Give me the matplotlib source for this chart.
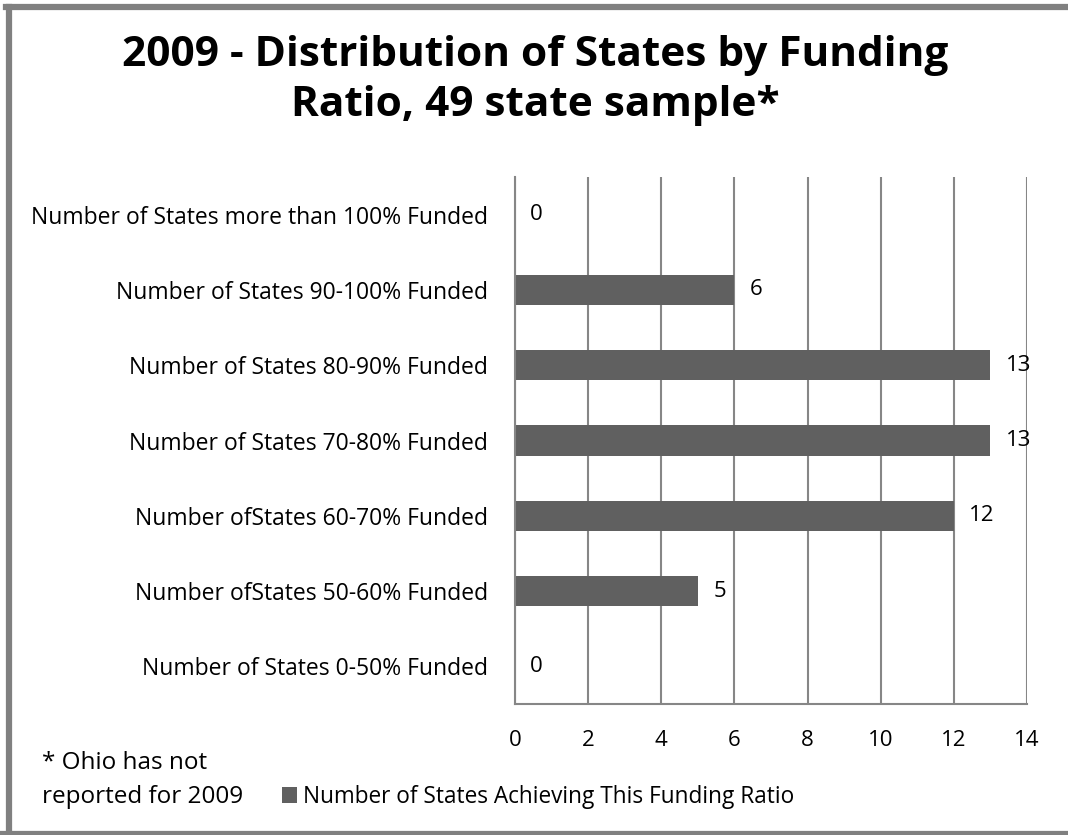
import matplotlib
matplotlib.use('Agg')
import matplotlib.pyplot as plt
from matplotlib.lines import Line2D

plt.rcParams['font.family'] = ['Open Sans', 'DejaVu Sans']

# funding-ratio buckets, bottom to top
categories = ['Number of States 0-50% Funded',
              'Number ofStates 50-60% Funded',
              'Number ofStates 60-70% Funded',
              'Number of States 70-80% Funded',
              'Number of States 80-90% Funded',
              'Number of States 90-100% Funded',
              'Number of States more than 100% Funded']
counts = [0, 5, 12, 13, 13, 6, 0]
x_ticks = [0, 2, 4, 6, 8, 10, 12, 14]
series_name = 'Number of States Achieving This Funding Ratio'

W, H = 1068, 835
fig = plt.figure(figsize=(W / 100, H / 100), dpi=100)

ax = fig.add_axes([515 / W, 1 - 704 / H, (1027 - 515) / W, (704 - 177) / H])
bar_color = '#606060'
grid_color = '#868686'

ypos = list(range(len(categories)))
bars = ax.barh(ypos, counts, height=0.4, color=bar_color, label=series_name)
ax.set_ylim(-0.5, len(categories) - 0.5)
ax.set_xlim(0, 14)
ax.set_xticks(x_ticks)
ax.set_yticks(ypos)
ax.set_yticklabels(categories)
ax.tick_params(axis='both', length=0)
ax.tick_params(axis='y', pad=19.5, labelsize=16.5)
ax.tick_params(axis='x', pad=19, labelsize=16)
ax.xaxis.grid(True, color=grid_color, linewidth=1.5)
ax.set_axisbelow(True)
for s in ['top', 'right']:
    ax.spines[s].set_visible(False)
for s in ['left', 'bottom']:
    ax.spines[s].set_color(grid_color)
    ax.spines[s].set_linewidth(1.5)

# value labels just past the bar ends
for y, v in zip(ypos, counts):
    ax.annotate(str(v), xy=(v, y), xytext=(11, 0), textcoords='offset points',
                ha='left', va='center', fontsize=16)

fig.text(535 / W, 1 - 56 / H, '2009 - Distribution of States by Funding',
         ha='center', va='center', fontsize=30.5, fontweight='bold')
fig.text(535 / W, 1 - 106 / H, 'Ratio, 49 state sample*',
         ha='center', va='center', fontsize=30.5, fontweight='bold')

fig.text(42 / W, 1 - 763 / H, '* Ohio has not', ha='left', va='center', fontsize=17.5)
fig.text(42 / W, 1 - 797 / H, 'reported for 2009', ha='left', va='center', fontsize=17.5)

fig.legend(handles=[bars], labels=[series_name], loc='center left',
           bbox_to_anchor=(282 / W, 1 - 797 / H), frameon=False, fontsize=16.3,
           handlelength=0.66, handleheight=0.66, handletextpad=0.27,
           borderpad=0, borderaxespad=0)

# outer frame
frame = '#808080'
fig.add_artist(Line2D([9 / W, 9 / W], [0, 1 - 7 / H], color=frame, linewidth=4.5))
fig.add_artist(Line2D([6 / W, 1], [1 - 7 / H, 1 - 7 / H], color=frame, linewidth=4.5))
fig.add_artist(Line2D([0, 1], [1 / H, 1 / H], color=frame, linewidth=4.5))

fig.savefig('out.png', dpi=100)
